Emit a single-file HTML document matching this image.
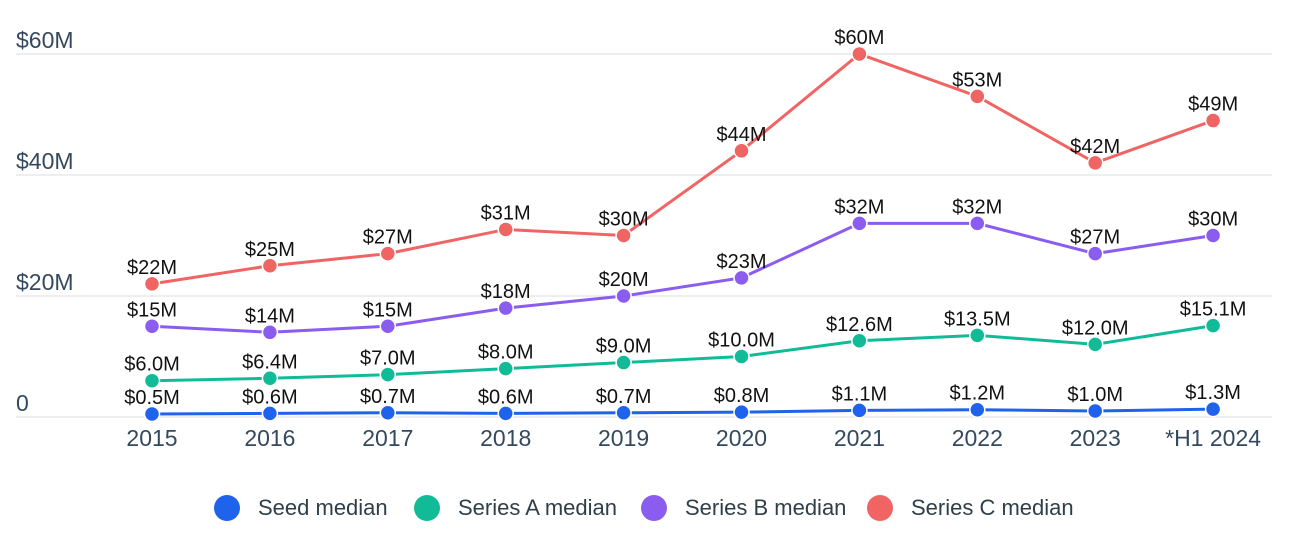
<!DOCTYPE html>
<html><head><meta charset="utf-8"><style>
body{margin:0;background:#fff;}
svg{display:block;font-family:"Liberation Sans",sans-serif;}
</style></head><body>
<svg id="c" width="1292" height="536"></svg>
<script>
const categories=["2015","2016","2017","2018","2019","2020","2021","2022","2023","*H1 2024"];
const seedValues=[0.5,0.6,0.7,0.6,0.7,0.8,1.1,1.2,1.0,1.3];
const seedLabels=["$0.5M","$0.6M","$0.7M","$0.6M","$0.7M","$0.8M","$1.1M","$1.2M","$1.0M","$1.3M"];
const seriesAValues=[6.0,6.4,7.0,8.0,9.0,10.0,12.6,13.5,12.0,15.1];
const seriesALabels=["$6.0M","$6.4M","$7.0M","$8.0M","$9.0M","$10.0M","$12.6M","$13.5M","$12.0M","$15.1M"];
const seriesBValues=[15,14,15,18,20,23,32,32,27,30];
const seriesBLabels=["$15M","$14M","$15M","$18M","$20M","$23M","$32M","$32M","$27M","$30M"];
const seriesCValues=[22,25,27,31,30,44,60,53,42,49];
const seriesCLabels=["$22M","$25M","$27M","$31M","$30M","$44M","$60M","$53M","$42M","$49M"];
const yTicks=[0,20,40,60];
const yTickLabels=["0","$20M","$40M","$60M"];

const NS="http://www.w3.org/2000/svg";
const svg=document.getElementById("c");
const x=i=>152+i*117.9;
const y=v=>417-v*6.05;
function mk(tag,attrs,parent){const e=document.createElementNS(NS,tag);for(const k in attrs)e.setAttribute(k,attrs[k]);(parent||svg).appendChild(e);return e;}

yTicks.forEach((t,i)=>{
  const g=mk("line",{x1:16,x2:1272,y1:y(t),y2:y(t),stroke:"#e6e8ea","stroke-width":1.5});
  
  
  const tx=mk("text",{x:16,y:y(t)-6,"font-size":23,fill:"#34495e"});
  tx.textContent=yTickLabels[i];
  
  
});
categories.forEach((c,i)=>{
  const tx=mk("text",{x:x(i),y:446,"font-size":23,fill:"#34495e","text-anchor":"middle"});
  tx.textContent=c;
  
  
});
const series=[
 {v:seedValues,l:seedLabels,c:"#1f63ec",n:"seed"},
 {v:seriesAValues,l:seriesALabels,c:"#12bb98",n:"series-a"},
 {v:seriesBValues,l:seriesBLabels,c:"#8a5cf0",n:"series-b"},
 {v:seriesCValues,l:seriesCLabels,c:"#f06464",n:"series-c"}];
series.forEach(s=>{
  const p=mk("polyline",{points:s.v.map((v,i)=>x(i)+","+y(v)).join(" "),fill:"none",stroke:s.c,"stroke-width":3});
  
  
  s.v.forEach((v,i)=>{
    const d=mk("circle",{cx:x(i),cy:y(v),r:7.5,fill:s.c,stroke:"#fff","stroke-width":1.5});
    
    
    const t=mk("text",{x:x(i),y:y(v)-10,"font-size":20,fill:"#111","text-anchor":"middle"});
    t.textContent=s.l[i];
    
    
  });
});
const leg=[["Seed median","#1f63ec",227],["Series A median","#12bb98",427],["Series B median","#8a5cf0",654],["Series C median","#f06464",880]];
leg.forEach(l=>{
  const c=mk("circle",{cx:l[2],cy:508,r:13,fill:l[1]});
  
  
  const t=mk("text",{x:l[2]+31,y:515,"font-size":22,fill:"#2f3f4a"});
  t.textContent=l[0];
  
  
});
</script>
</body></html>
